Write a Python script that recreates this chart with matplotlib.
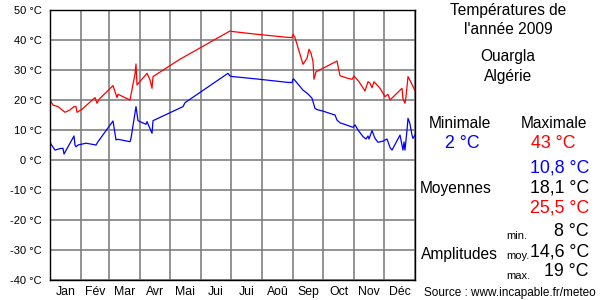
import matplotlib.pyplot as plt
import numpy as np

plt.rcParams['font.family'] = ['Liberation Sans', 'DejaVu Sans']

# month boundaries (day of year) and labels
month_edges = [0, 31, 59, 90, 120, 151, 181, 212, 243, 273, 304, 334, 365]
month_names = ['Jan', 'Fév', 'Mar', 'Avr', 'Mai', 'Jui', 'Jui', 'Aoû', 'Sep', 'Oct', 'Nov', 'Déc']
y_ticks = [50, 40, 30, 20, 10, 0, -10, -20, -30, -40]

# daily max (red)
days_max = [0, 3, 8, 15, 20, 24, 26, 27, 32, 45, 47, 49, 63, 67, 68, 80, 85, 86, 87, 97,
            100, 102, 103, 130, 180, 183, 207, 237, 242, 243, 245, 253, 257, 259, 261,
            263, 264, 266, 287, 288, 290, 297, 302, 304, 309, 315, 318, 320, 322, 324,
            330, 335, 338, 340, 352, 353, 355, 356, 358, 362, 365]
tmax = [20, 18.3, 17.8, 15.9, 16.7, 17.8, 17.8, 15.9, 16.9, 20.8, 18.9, 20.2, 24.8, 20.8, 21.9, 20, 28.7, 32, 25, 28.9,
        26.7, 23.9, 27.8, 33.6, 43, 42.8, 41.9, 40.9, 40.8, 41.9, 40.8, 31.9, 33.9, 36.9, 35.6,
        32.8, 26.9, 29.4, 33, 31.3, 28.1, 27.3, 26.9, 28, 26.1, 23, 26.1, 25.6, 24.1, 26.1,
        23.9, 21.1, 21.9, 20, 23.9, 20.3, 18.9, 21.1, 27.8, 25.2, 23.1]

# daily min (blue)
days_min = [0, 5, 10, 13, 14, 18, 24, 25, 26, 28, 36, 46, 48, 63, 66, 68, 80, 81, 86, 88,
            96, 97, 102, 103, 133, 135, 178, 180, 183, 207, 237, 242, 243, 244, 253,
            258, 262, 265, 267, 273, 282, 285, 287, 290, 303, 305, 308, 313, 316, 318,
            319, 322, 325, 328, 333, 337, 340, 342, 350, 353, 354, 355, 357, 358, 360,
            362, 363, 365]
tmin = [5.8, 3.3, 3.8, 3.9, 2, 4.4, 8, 5, 4.4, 5, 5.6, 5, 6.1, 13, 6.7, 6.9, 6.1, 7.2, 17.8, 13.1,
        11.9, 12.8, 8.9, 13.1, 17.8, 19.1, 28.9, 28, 27.8, 27, 25.9, 25.8, 27, 26.9, 23.3,
        22, 20.6, 17.2, 16.8, 16.3, 15.3, 15, 13.3, 12.4, 10.9, 11.7, 10, 7.8, 7, 8,
        7, 9.8, 7.2, 5.9, 6.3, 7, 4.2, 3.3, 8.3, 3.3, 6, 3.3, 10, 13.9, 12,
        8.3, 7.2, 8.3]

fig = plt.figure(figsize=(6, 3), dpi=100)
ax = fig.add_axes([50/600, 1 - 280/300, 365/600, 270/300])

ax.plot(days_max, tmax, color='#ff0000', lw=0.9)
ax.plot(days_min, tmin, color='#0000ff', lw=0.9)

ax.set_xlim(0, 365)
ax.set_ylim(-40, 50)
ax.set_yticks(y_ticks)
ax.set_yticklabels([f'{v} °C' for v in y_ticks], fontsize=8)
ax.set_xticks(month_edges)
ax.set_xticklabels([])
mids = [(a + b) / 2 for a, b in zip(month_edges[:-1], month_edges[1:])]
ax.set_xticks(mids, minor=True)
ax.set_xticklabels(month_names, minor=True, fontsize=8.8)
ax.tick_params(which='both', length=0)
ax.tick_params(axis='y', pad=6)
ax.tick_params(axis='x', which='minor', pad=4)
ax.grid(True, which='major', color='#808080', lw=1.2)
for s in ax.spines.values():
    s.set_color('black')
    s.set_linewidth(1)

def t(x, y, s, **kw):
    fig.text(x / 600, 1 - y / 300, s, va='center', **kw)

t(508, 11, 'Températures de', ha='center', fontsize=11.2)
t(508, 30, "l'année 2009", ha='center', fontsize=11.2)
t(508, 57, 'Ouargla', ha='center', fontsize=11.2)
t(508, 77, 'Algérie', ha='center', fontsize=11.2)

t(460, 124, 'Minimale', ha='center', fontsize=11.2)
t(554, 124, 'Maximale', ha='center', fontsize=11.2)
t(462, 143, '2 °C', ha='center', fontsize=12.8, color='#0000ff')
t(553, 143, '43 °C', ha='center', fontsize=12.8, color='#ff0000')

t(420, 189, 'Moyennes', ha='left', fontsize=11.2)
t(589, 168, '10,8 °C', ha='right', fontsize=12.8, color='#0000ff')
t(589, 188, '18,1 °C', ha='right', fontsize=12.8, color='black')
t(589, 208, '25,5 °C', ha='right', fontsize=12.8, color='#ff0000')

t(421, 255, 'Amplitudes', ha='left', fontsize=11.2)
t(506, 236, 'min.', ha='left', fontsize=8)
t(506, 256, 'moy.', ha='left', fontsize=8)
t(506, 276, 'max.', ha='left', fontsize=8)
t(589, 232, '8 °C', ha='right', fontsize=12.8)
t(589, 252, '14,6 °C', ha='right', fontsize=12.8)
t(589, 272, '19 °C', ha='right', fontsize=12.8)

t(596, 293, 'Source : www.incapable.fr/meteo', ha='right', fontsize=8.5)

fig.savefig('out.png', dpi=100)
